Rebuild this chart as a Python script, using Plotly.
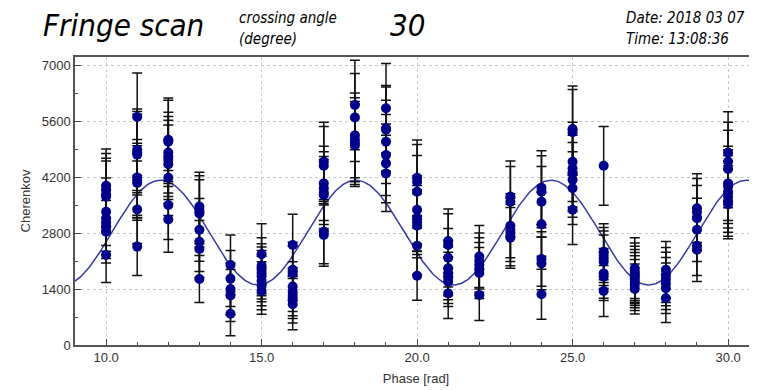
import numpy as np
import plotly.graph_objects as go

# ---------------- data ----------------
phases = list(range(10, 31))

values = [
    [3980, 3880, 3770, 3710, 3330, 3170, 3060, 2960, 2830, 2250],      # 10
    [5700, 4880, 4820, 4760, 4190, 4110, 4050, 3390, 2460],            # 11
    [5130, 5080, 4810, 4710, 4630, 4520, 4180, 3500, 3140],            # 12
    [3460, 3380, 3290, 2880, 2580, 2400, 1650],                        # 13
    [2000, 1660, 1400, 1240, 780],                                     # 14
    [2270, 1980, 1880, 1800, 1720, 1600, 1480, 1350],                  # 15
    [2500, 1880, 1790, 1460, 1330, 1250, 1130, 1020],                  # 16
    [4580, 4480, 4040, 3920, 3810, 3750, 2830, 2750],                  # 17
    [6000, 5690, 5240, 5130, 5050, 4990],                              # 18
    [5920, 5420, 5380, 5080, 4750, 4540, 4290],                        # 19
    [4180, 4080, 3830, 3380, 3170, 3070, 2980, 2480, 1730],            # 20
    [2600, 2500, 2180, 1920, 1790, 1680, 1580, 1290],                  # 21
    [2210, 2100, 2000, 1900, 1800, 1250],                              # 22
    [3710, 3580, 2980, 2880, 2750, 2680],                              # 23
    [3930, 3830, 3580, 3020, 2150, 2040, 1270],                        # 24
    [5400, 5320, 4580, 4420, 4290, 4130, 3920, 3380],                  # 25
    [4480, 2330, 2250, 2170, 2080, 1790, 1710, 1350],                  # 26
    [1920, 1830, 1770, 1710, 1650, 1580, 1500, 1400],                  # 27
    [1880, 1750, 1650, 1540, 1420, 1170],                              # 28
    [3420, 3320, 3170, 2880, 2480, 2380],                              # 29
    [4810, 4580, 4400, 4040, 3960, 3830, 3710, 3600, 3520],            # 30
]

errors = [
    [920, 910, 900, 890, 845, 825, 810, 795, 780, 690],
    [1100, 1020, 1015, 1010, 945, 935, 930, 850, 725],
    [1045, 1040, 1010, 1000, 990, 980, 945, 865, 820],
    [860, 850, 840, 785, 745, 715, 590],
    [750, 700, 650, 650, 550],
    [760, 700, 650, 650, 640, 620, 600, 580],
    [770, 690, 680, 620, 600, 590, 580, 640],
    [990, 980, 930, 910, 900, 890, 800, 780],
    [1120, 1100, 1060, 1050, 1040, 1030],
    [1120, 1070, 1070, 1040, 1010, 985, 955],
    [945, 935, 905, 850, 820, 810, 800, 730, 610],
    [800, 780, 730, 690, 660, 640, 620, 625],
    [775, 700, 680, 660, 640, 640],
    [890, 880, 800, 790, 770, 760],
    [925, 900, 880, 800, 680, 660, 625],
    [1075, 1065, 990, 970, 955, 935, 910, 870],
    [985, 700, 690, 680, 670, 620, 600, 640],
    [760, 720, 700, 680, 660, 650, 640, 625],
    [710, 690, 670, 650, 630, 610],
    [860, 840, 820, 790, 740, 790],
    [1020, 990, 970, 930, 920, 905, 890, 880, 865],
]

# fitted fringe model parameters
fit_offset = 2810
fit_amplitude = 1310
fit_period = 6.28
fit_peak = 11.75

x_range = [9.0, 30.93]
y_ticks = [0, 1400, 2800, 4200, 5600, 7000]
x_ticks = [10, 15, 20, 25, 30]

# ---------------- build ----------------
px, py, pe = [], [], []
for ph, vs, es in zip(phases, values, errors):
    for v, e in zip(vs, es):
        px.append(ph)
        py.append(v)
        pe.append(e)

xf = np.linspace(x_range[0], x_range[1], 600)
yf = fit_offset + fit_amplitude * np.cos(2 * np.pi * (xf - fit_peak) / fit_period)

fig = go.Figure()
fig.add_trace(go.Scatter(x=xf, y=yf, mode="lines",
                         line=dict(color="#3a3aa6", width=1.5),
                         hoverinfo="skip", showlegend=False))
fig.add_trace(go.Scatter(x=px, y=py, mode="markers",
                         marker=dict(color="#00008b", size=10),
                         error_y=dict(type="data", array=pe, visible=True,
                                      color="#111111", thickness=1.5, width=5),
                         showlegend=False))

axis_font = dict(family="Liberation Sans, Arial, sans-serif", size=13, color="#333333")

fig.update_xaxes(range=x_range, tickvals=x_ticks, ticktext=[f"{t:.1f}" for t in x_ticks],
                 ticks="inside", ticklen=6, tickwidth=1, tickcolor="#444",
                 minor=dict(ticks="inside", ticklen=3, dtick=1, tick0=10, tickcolor="#444", showgrid=False),
                 showline=True, linecolor="#555", linewidth=1.5, mirror=True,
                 showgrid=True, gridcolor="#c8c8c8", griddash="dot", gridwidth=1,
                 zeroline=False, tickfont=axis_font,
                 title=dict(text="Phase [rad]", font=axis_font, standoff=10))
fig.update_yaxes(range=[0, 7200], tickvals=y_ticks,
                 ticks="inside", ticklen=6, tickwidth=1, tickcolor="#444",
                 minor=dict(ticks="inside", ticklen=3, dtick=700, tick0=0, tickcolor="#444", showgrid=False),
                 showline=True, linecolor="#555", linewidth=1.5, mirror=False,
                 showgrid=True, gridcolor="#c8c8c8", griddash="dot", gridwidth=1,
                 zeroline=False, tickfont=axis_font,
                 title=dict(text="Cherenkov", font=axis_font, standoff=8))

hdr = "DejaVu Sans Condensed, Liberation Sans, DejaVu Sans, sans-serif"

# plot area in window pixels: left 75, right 757, top 57, bottom 345
def px_x(p):
    return (p - 75) / 682.0

def px_y(p):
    return (345 - p) / 288.0

ann = [
    dict(text="<i>Fringe scan</i>", x=px_x(42), y=px_y(25), xanchor="left", yanchor="middle", size=31),
    dict(text="<i>crossing angle</i>", x=px_x(238), y=px_y(18), xanchor="left", yanchor="middle", size=15),
    dict(text="<i>(degree)</i>", x=px_x(238), y=px_y(39), xanchor="left", yanchor="middle", size=15),
    dict(text="<i>30</i>", x=px_x(389), y=px_y(25), xanchor="left", yanchor="middle", size=31),
    dict(text="<i>Date: 2018 03 07</i>", x=px_x(625), y=px_y(18), xanchor="left", yanchor="middle", size=15),
    dict(text="<i>Time: 13:08:36</i>", x=px_x(625), y=px_y(39), xanchor="left", yanchor="middle", size=15),
]
for a in ann:
    fig.add_annotation(text=a["text"], x=a["x"], y=a["y"], xref="paper", yref="paper",
                       xanchor=a["xanchor"], yanchor=a["yanchor"], showarrow=False,
                       borderpad=0,
                       font=dict(family=hdr, size=a["size"], color="#000"))

# the page body adds an 8px offset, so margins are shifted to compensate
fig.update_layout(width=757, height=390,
                  margin=dict(l=67, r=8, t=49, b=53),
                  plot_bgcolor="white", paper_bgcolor="white",
                  showlegend=False)

fig.write_html("out.html")
